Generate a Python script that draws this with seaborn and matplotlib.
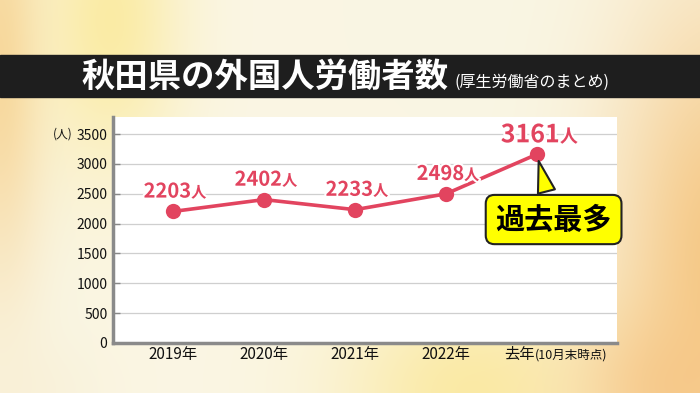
import numpy as np
import pandas as pd
import matplotlib
matplotlib.use("Agg")
import matplotlib.pyplot as plt
import matplotlib.patheffects as pe
from matplotlib.patches import Rectangle
from matplotlib.transforms import ScaledTranslation
import seaborn as sns

# data
years = ["2019年", "2020年", "2021年", "2022年", "去年"]
workers = [2203, 2402, 2233, 2498, 3161]
yticks = [0, 500, 1000, 1500, 2000, 2500, 3000, 3500]
title = "秋田県の外国人労働者数"
subtitle = "(厚生労働省のまとめ)"
last_note = "(10月末時点)"
callout = "過去最多"
unit = "人"

sns.set_theme(style="white")
plt.rcParams['font.family'] = ['Noto Sans CJK JP', 'DejaVu Sans']

pink = "#E2445F"
W, H = 700, 393

fig = plt.figure(figsize=(7, 3.93), dpi=100)

# warm blurred background
bg = fig.add_axes([0, 0, 1, 1])
yy, xx = np.mgrid[0:H, 0:W]
img = np.ones((H, W, 3)) * np.array([250, 246, 228]) / 255


def blob(img, cx, cy, rx, ry, col, a):
    d = a * np.exp(-(((xx - cx) / rx) ** 2 + ((yy - cy) / ry) ** 2))[..., None]
    return img * (1 - d) + np.array(col) / 255 * d


img = blob(img, 0, 60, 45, 220, [247, 212, 150], 0.9)
img = blob(img, 110, 20, 70, 150, [251, 233, 150], 0.8)
img = blob(img, 720, 260, 110, 260, [245, 196, 125], 0.9)
img = blob(img, 470, 393, 130, 110, [251, 231, 150], 0.8)
img = blob(img, 660, 393, 90, 90, [246, 190, 120], 0.6)
img = blob(img, 30, 393, 80, 60, [250, 238, 210], 0.5)
bg.imshow(img, aspect="auto", extent=[0, W, H, 0])
bg.axis("off")

# title bar
fig.add_artist(Rectangle((0, 1 - 97 / H), 1, 42 / H, transform=fig.transFigure,
                         color="#1E1E1E", zorder=2))
fig.text(82 / W, 1 - 77 / H, title, color="white", fontsize=24, weight="bold",
         va="center", ha="left", zorder=3)
fig.text(455 / W, 1 - 82 / H, subtitle, color="white", fontsize=11.5,
         va="center", ha="left", zorder=3)

# chart
ax = fig.add_axes([113 / W, 1 - 343 / H, 504 / W, 226 / H])
ax.set_facecolor("white")
df = pd.DataFrame({"x": range(len(years)), "workers": workers})
sns.lineplot(data=df, x="x", y="workers", ax=ax, color=pink, lw=2.6,
             marker="o", markersize=11, markeredgewidth=0, zorder=3)

ax.set_xlim(-0.66, 4.88)
ax.set_ylim(0, 3785)
ax.set_xlabel("")
ax.set_ylabel("")
ax.set_yticks(yticks)
ax.set_yticklabels([str(t) for t in yticks], fontsize=10, color="#111111")
ax.yaxis.grid(True, color="#CFCFCF", lw=0.9)
ax.set_axisbelow(True)
ax.tick_params(axis="y", direction="in", length=5, width=1, color="#888888", pad=4, left=True)
ax.set_xticks(range(len(years)))
ax.set_xticklabels(years, fontsize=11, color="#111111")
ax.tick_params(axis="x", length=0, pad=2)
for s in ["top", "right"]:
    ax.spines[s].set_visible(False)
for s in ["left", "bottom"]:
    ax.spines[s].set_color("#8A8A8A")
    ax.spines[s].set_linewidth(2.5)

# shift last tick label so the note fits after it
lab = ax.get_xticklabels()[-1]
lab.set_transform(lab.get_transform() + ScaledTranslation(-0.175, 0, fig.dpi_scale_trans))
ax.annotate(last_note, xy=(len(years) - 1, 0), xytext=(-1.5, -9), textcoords="offset points",
            ha="left", va="center", fontsize=9, color="#111111", annotation_clip=False)

ax.annotate("(人)", xy=(0, 3500), xycoords=("axes fraction", "data"), xytext=(-29, 0),
            textcoords="offset points", ha="right", va="center", fontsize=8.5,
            color="#111111", annotation_clip=False)

# value labels
halo = [pe.withStroke(linewidth=3, foreground="white")]
for i, v in enumerate(workers):
    last = i == len(workers) - 1
    big, small, dx, dy = (18, 13, 16.5, 8.6) if last else (14.5, 11, 13, 10)
    ax.annotate(f"{v}", xy=(i, v), xytext=(dx, dy), textcoords="offset points",
                ha="right", va="baseline", fontsize=big, weight="bold", color=pink,
                path_effects=halo, zorder=4)
    ax.annotate(unit, xy=(i, v), xytext=(dx, dy), textcoords="offset points",
                ha="left", va="baseline", fontsize=small, weight="bold", color=pink,
                path_effects=halo, zorder=4)

# callout for the record value
ax.annotate(callout, xy=(len(workers) - 1, workers[-1]), xytext=(12, -47),
            textcoords="offset points", ha="center", va="center", fontsize=21,
            weight="bold", color="black", zorder=6, annotation_clip=False,
            bbox=dict(boxstyle="round,pad=0.33,rounding_size=0.3", fc="#FFFF00",
                      ec="#222222", lw=1.5),
            arrowprops=dict(arrowstyle="wedge,tail_width=0.6,shrink_factor=0.5",
                            fc="#FFFF00", ec="#222222", lw=1.5, shrinkB=5))

fig.savefig("out.png", dpi=100)
